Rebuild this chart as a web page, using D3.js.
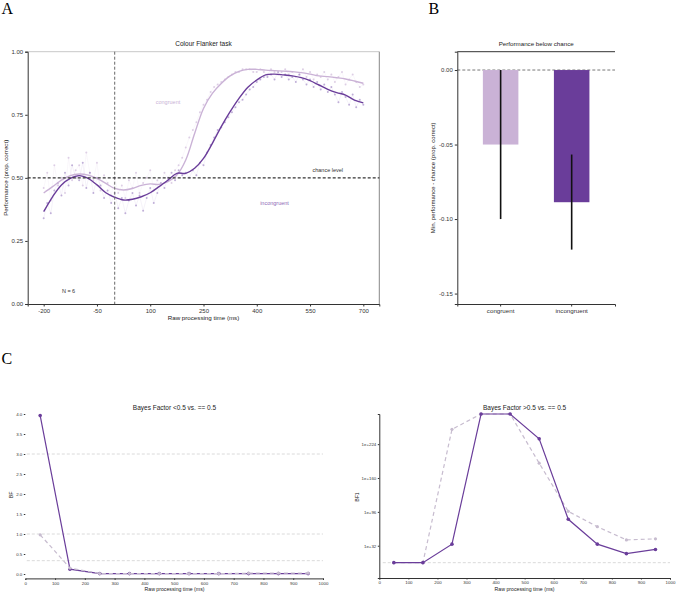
<!DOCTYPE html>
<html>
<head>
<meta charset="utf-8">
<script src="https://cdn.jsdelivr.net/npm/d3@7"></script>
<style>
body{margin:0;background:#fff}
svg{display:block;font-family:"Liberation Sans",Arial,sans-serif}
</style>
</head>
<body>
<div class="chart"></div>
<script>
// panel A: smoothed curves (every 25 ms) and raw accuracy (every 10 ms)
const smoothTimes = [-200,-175,-150,-125,-100,-75,-50,-25,0,25,50,75,100,125,150,175,200,225,250,275,300,325,350,375,400,425,450,475,500,525,550,575,600,625,650,675,700];
const smoothCongruent = [0.44,0.465,0.491,0.509,0.515,0.511,0.498,0.478,0.458,0.452,0.458,0.47,0.476,0.474,0.485,0.511,0.571,0.676,0.775,0.835,0.874,0.904,0.922,0.93,0.93,0.927,0.925,0.923,0.921,0.917,0.911,0.904,0.901,0.897,0.892,0.884,0.875];
const smoothIncongruent = [0.366,0.425,0.472,0.498,0.509,0.498,0.472,0.441,0.423,0.412,0.415,0.425,0.441,0.465,0.491,0.518,0.518,0.538,0.577,0.637,0.703,0.762,0.815,0.859,0.888,0.908,0.911,0.908,0.904,0.897,0.885,0.868,0.851,0.838,0.828,0.808,0.797];

const rawTimes = [-200,-190,-180,-170,-160,-150,-140,-130,-120,-110,-100,-90,-80,-70,-60,-50,-40,-30,-20,-10,0,10,20,30,40,50,60,70,80,90,100,110,120,130,140,150,160,170,180,190,200,210,220,230,240,250,260,270,280,290,300,310,320,330,340,350,360,370,380,390,400,410,420,430,440,450,460,470,480,490,500,510,520,530,540,550,560,570,580,590,600,610,620,630,640,650,660,670,680,690,700];
const rawCongruent = [0.46,0.52,0.41,0.55,0.47,0.50,0.44,0.58,0.49,0.53,
  0.55,0.47,0.60,0.52,0.49,0.56,0.45,0.51,0.48,0.43,
  0.50,0.44,0.47,0.42,0.49,0.46,0.52,0.44,0.48,0.50,
  0.53,0.45,0.49,0.47,0.52,0.50,0.48,0.53,0.55,0.58,
  0.62,0.66,0.69,0.72,0.76,0.79,0.81,0.84,0.86,0.87,
  0.88,0.89,0.90,0.91,0.92,0.92,0.93,0.93,0.93,0.92,
  0.92,0.93,0.92,0.91,0.93,0.92,0.91,0.92,0.93,0.91,
  0.92,0.90,0.91,0.93,0.90,0.92,0.89,0.91,0.90,0.92,
  0.89,0.91,0.88,0.90,0.92,0.87,0.89,0.91,0.88,0.86,0.87];
const rawIncongruent = [0.34,0.40,0.36,0.45,0.48,0.43,0.52,0.47,0.55,0.50,
  0.49,0.56,0.46,0.52,0.44,0.50,0.47,0.42,0.45,0.40,
  0.44,0.38,0.42,0.36,0.41,0.44,0.39,0.43,0.37,0.42,
  0.46,0.40,0.44,0.48,0.46,0.50,0.52,0.49,0.53,0.51,
  0.52,0.50,0.53,0.51,0.56,0.55,0.60,0.63,0.66,0.69,
  0.70,0.72,0.74,0.76,0.78,0.80,0.81,0.83,0.85,0.86,
  0.88,0.89,0.90,0.90,0.91,0.89,0.92,0.90,0.91,0.89,
  0.90,0.88,0.91,0.89,0.87,0.89,0.86,0.88,0.85,0.87,
  0.84,0.86,0.83,0.80,0.84,0.82,0.79,0.83,0.78,0.81,0.79];
const ticksAx = [-200,-50,100,250,400,550,700];
const ticksAy = [0,0.25,0.5,0.75,1];

// panel B
const conditions = ['congruent','incongruent'];
const minPerf = [-0.05,-0.0887];
const ciLow = [-0.10,-0.1205];
const ciHigh = [0.0,-0.0567];
const ticksBy = [0,-0.05,-0.10,-0.15];

// panel C
const bfTimes = [50,150,250,350,450,550,650,750,850,950];
const bfIncongruent = [3.96,0.12,0.01,0.01,0.01,0.01,0.01,0.01,0.01,0.01];
const bfCongruent = [0.98,0.15,0.01,0.01,0.01,0.01,0.01,0.02,0.02,0.02];
const bf1Incongruent = [1,1,1e35,Infinity,Infinity,1e234,1e82,1e35,1e17,1e25];
const bf1Congruent = [1,1,1e252,Infinity,Infinity,1e188,1e97,1e68,1e43,1e45];
const ticksC = [0,100,200,300,400,500,600,700,800,900,1000];
const ticksC1y = [0,0.5,1,1.5,2,2.5,3,3.5,4];
const ticksC2y = [1e32,1e96,1e160,1e224];
const bfRefLines = [3,1,1/3];

const light = '#cab2d6', dark = '#6a3d9a', greyDash = '#c7bccf';

const svg = d3.select('div.chart')
  .append('svg')
  .attr('width', 677)
  .attr('height', 593);

function styleAxis(g, fs){
  g.select('.domain').attr('stroke', '#333').attr('stroke-width', 1);
  g.selectAll('.tick line').attr('stroke', '#333');
  g.selectAll('.tick text').attr('fill', '#333').attr('font-size', fs).attr('font-family', '"Liberation Sans",Arial,sans-serif');
}
function label(txt, x, y, fs, opts){
  const t = svg.append('text').attr('x', x).attr('y', y).attr('font-size', fs)
    .attr('text-anchor', 'middle').attr('fill', (opts && opts.fill) || '#222').text(txt);
  if (opts && opts.rotate) t.attr('transform', 'rotate(-90,' + x + ',' + y + ')');
  return t;
}

// panel letters
svg.append('text').attr('x', 1.5).attr('y', 13.5).attr('font-family', '"Liberation Serif",serif').attr('font-size', 16).text('A');
svg.append('text').attr('x', 428.5).attr('y', 13.5).attr('font-family', '"Liberation Serif",serif').attr('font-size', 16).text('B');
svg.append('text').attr('x', 1.5).attr('y', 364).attr('font-family', '"Liberation Serif",serif').attr('font-size', 16).text('C');

// ---------- A ----------
const xA = d3.scaleLinear().domain([-245,745]).range([27.7,379.3]);
const yA = d3.scaleLinear().domain([0,1]).range([304,51.7]);

svg.append('line').attr('x1', xA(-245)).attr('x2', xA(745)).attr('y1', yA(1)).attr('y2', yA(1)).attr('stroke', '#c8c8c8');
svg.append('line').attr('x1', xA(745)).attr('x2', xA(745)).attr('y1', yA(1)).attr('y2', yA(0)).attr('stroke', '#888');

const rawLine = d3.line().x((d, i) => xA(rawTimes[i])).y(d => yA(d));
[[rawCongruent, light], [rawIncongruent, '#9a7fbf']].forEach(([arr, col]) => {
  svg.append('path').attr('d', rawLine(arr)).attr('fill', 'none').attr('stroke', col).attr('stroke-width', 0.4).attr('opacity', 0.25);
  svg.append('g').selectAll('circle')
    .data(arr)
    .enter()
    .append('circle')
    .attr('cx', (d, i) => xA(rawTimes[i]))
    .attr('cy', d => yA(d))
    .attr('r', 1)
    .attr('fill', col)
    .attr('opacity', 0.6);
});

const smoothLine = d3.line().curve(d3.curveCatmullRom).x((d, i) => xA(smoothTimes[i])).y(d => yA(d));
svg.append('path').attr('d', smoothLine(smoothCongruent)).attr('fill', 'none').attr('stroke', light).attr('stroke-width', 1.4);
svg.append('path').attr('d', smoothLine(smoothIncongruent)).attr('fill', 'none').attr('stroke', dark).attr('stroke-width', 1.4);

svg.append('line').attr('x1', xA(0)).attr('x2', xA(0)).attr('y1', yA(1)).attr('y2', yA(0))
  .attr('stroke', '#666').attr('stroke-width', 1).attr('stroke-dasharray', '3,2');
svg.append('line').attr('x1', xA(-245)).attr('x2', xA(745)).attr('y1', yA(0.5)).attr('y2', yA(0.5))
  .attr('stroke', '#333').attr('stroke-width', 1.2).attr('stroke-dasharray', '3,2');

const axAx = svg.append('g').attr('transform', 'translate(0,' + yA(0) + ')')
  .call(d3.axisBottom(xA).tickValues(ticksAx).tickSize(2.5).tickPadding(2).tickFormat(d => String(d)));
styleAxis(axAx, 6);
const axAy = svg.append('g').attr('transform', 'translate(' + xA(-245) + ',0)')
  .call(d3.axisLeft(yA).tickValues(ticksAy).tickSize(2.5).tickPadding(2).tickFormat(d => d.toFixed(2)));
styleAxis(axAy, 6);

label('Colour Flanker task', 203.5, 46, 6.5);
label('Raw processing time (ms)', 203.5, 319.5, 6.2);
label('Performance (prop. correct)', 8.5, 177.8, 6.2, {rotate: true});
label('congruent', xA(150), yA(0.8) + 2, 5.5, {fill: light});
label('incongruent', xA(450), yA(0.4) + 2, 5.5, {fill: '#8d6bb8'});
label('chance level', xA(600), yA(0.53) + 2, 5.5, {fill: '#333'});
label('N = 6', xA(-130), yA(0.05) + 2, 5.5, {fill: '#333'});

// ---------- B ----------
const xB = d3.scaleBand().domain(conditions).range([457.3,615]).paddingInner(0.5).paddingOuter(0.36);
const yB = d3.scaleLinear().domain([-0.157,0.0123]).range([304,51.7]);

svg.append('line').attr('x1', 457.3).attr('x2', 615).attr('y1', yB(0.0123)).attr('y2', yB(0.0123)).attr('stroke', '#333');
svg.append('line').attr('x1', 457.3).attr('x2', 615).attr('y1', yB(0)).attr('y2', yB(0))
  .attr('stroke', '#555').attr('stroke-width', 0.8).attr('stroke-dasharray', '3,2');

svg.selectAll('rect.bar')
  .data(conditions)
  .enter()
  .append('rect')
  .attr('class', 'bar')
  .attr('x', d => xB(d))
  .attr('width', xB.bandwidth())
  .attr('y', yB(0))
  .attr('height', (d, i) => yB(minPerf[i]) - yB(0))
  .attr('fill', (d, i) => i === 0 ? light : dark);

svg.selectAll('line.err')
  .data(conditions)
  .enter()
  .append('line')
  .attr('class', 'err')
  .attr('x1', d => xB(d) + xB.bandwidth() / 2)
  .attr('x2', d => xB(d) + xB.bandwidth() / 2)
  .attr('y1', (d, i) => yB(ciHigh[i]))
  .attr('y2', (d, i) => yB(ciLow[i]))
  .attr('stroke', '#111')
  .attr('stroke-width', 1.6);

const axBx = svg.append('g').attr('transform', 'translate(0,304)')
  .call(d3.axisBottom(xB).tickSize(2.5).tickPadding(2));
styleAxis(axBx, 6.2);
const axBy = svg.append('g').attr('transform', 'translate(457.3,0)')
  .call(d3.axisLeft(yB).tickValues(ticksBy).tickSize(2.5).tickPadding(2).tickFormat(d => d.toFixed(2)));
styleAxis(axBy, 6);

label('Performance below chance', 536.2, 46, 6.2);
label('Min. performance - chance (prop. correct)', 435, 177.8, 6, {rotate: true});

// ---------- C left ----------
const xC1 = d3.scaleLinear().domain([0,1000]).range([25.3,323]);
const yC1 = d3.scaleLinear().domain([-0.11,4.1]).range([578.4,410]);

svg.append('g').selectAll('line')
  .data(bfRefLines)
  .enter()
  .append('line')
  .attr('x1', xC1(5)).attr('x2', xC1(1000))
  .attr('y1', d => yC1(d)).attr('y2', d => yC1(d))
  .attr('stroke', '#d0d0d0').attr('stroke-width', 0.8).attr('stroke-dasharray', '3,2');

const lineC1 = d3.line().x((d, i) => xC1(bfTimes[i])).y(d => yC1(d));
svg.append('path').attr('d', lineC1(bfIncongruent)).attr('fill', 'none').attr('stroke', dark).attr('stroke-width', 1.2);
svg.append('g').selectAll('circle').data(bfIncongruent).enter().append('circle')
  .attr('cx', (d, i) => xC1(bfTimes[i])).attr('cy', d => yC1(d)).attr('r', 1.8).attr('fill', dark);
svg.append('path').attr('d', lineC1(bfCongruent)).attr('fill', 'none').attr('stroke', greyDash).attr('stroke-width', 1.2).attr('stroke-dasharray', '4,3');
svg.append('g').selectAll('circle').data(bfCongruent).enter().append('circle')
  .attr('cx', (d, i) => xC1(bfTimes[i])).attr('cy', d => yC1(d)).attr('r', 1.6).attr('fill', greyDash);

const axC1x = svg.append('g').attr('transform', 'translate(0,' + yC1(-0.11) + ')')
  .call(d3.axisBottom(xC1).tickValues(ticksC).tickSize(1.5).tickPadding(1.5).tickFormat(d => String(d)));
styleAxis(axC1x, 4.4);
const axC1y = svg.append('g').attr('transform', 'translate(' + xC1(0) + ',0)')
  .call(d3.axisLeft(yC1).tickValues(ticksC1y).tickSize(1.5).tickPadding(1.5).tickFormat(d => d.toFixed(1)));
styleAxis(axC1y, 4.4);
axC1y.select('.domain').remove();

label('Bayes Factor <0.5 vs. == 0.5', 174.5, 409.5, 6.5);
label('Raw processing time (ms)', 174.5, 590.5, 5.2);
label('BF', 13, 495, 5.2, {rotate: true});

// ---------- C right ----------
const xC2 = d3.scaleLinear().domain([0,1000]).range([379.3,670]);
const yC2 = d3.scaleLog().domain([1e-29,1e281]).range([578,414]).clamp(true);

svg.append('line').attr('x1', xC2(12)).attr('x2', xC2(1000)).attr('y1', yC2(1)).attr('y2', yC2(1))
  .attr('stroke', '#d0d0d0').attr('stroke-width', 0.8).attr('stroke-dasharray', '3,2');

const lineC2 = d3.line().x((d, i) => xC2(bfTimes[i])).y(d => yC2(d));
svg.append('path').attr('d', lineC2(bf1Congruent)).attr('fill', 'none').attr('stroke', greyDash).attr('stroke-width', 1.2).attr('stroke-dasharray', '4,3');
svg.append('g').selectAll('circle').data(bf1Congruent).enter().append('circle')
  .attr('cx', (d, i) => xC2(bfTimes[i])).attr('cy', d => yC2(d)).attr('r', 1.6).attr('fill', greyDash);
svg.append('path').attr('d', lineC2(bf1Incongruent)).attr('fill', 'none').attr('stroke', dark).attr('stroke-width', 1.2);
svg.append('g').selectAll('circle').data(bf1Incongruent).enter().append('circle')
  .attr('cx', (d, i) => xC2(bfTimes[i])).attr('cy', d => yC2(d)).attr('r', 1.8).attr('fill', dark);

const axC2x = svg.append('g').attr('transform', 'translate(0,578)')
  .call(d3.axisBottom(xC2).tickValues(ticksC).tickSize(1.5).tickPadding(1.5).tickFormat(d => String(d)));
styleAxis(axC2x, 4.4);
const axC2y = svg.append('g').attr('transform', 'translate(' + xC2(0) + ',0)')
  .call(d3.axisLeft(yC2).tickValues(ticksC2y).tickSize(1.5).tickPadding(1.5).tickFormat(d => '1e+' + Math.round(Math.log10(d))));
styleAxis(axC2y, 4.4);

label('Bayes Factor >0.5 vs. == 0.5', 524.6, 409.5, 6.5);
label('Raw processing time (ms)', 524.6, 590.5, 5.2);
label('BF1', 359, 497, 5.2, {rotate: true});
</script>
</body>
</html>
